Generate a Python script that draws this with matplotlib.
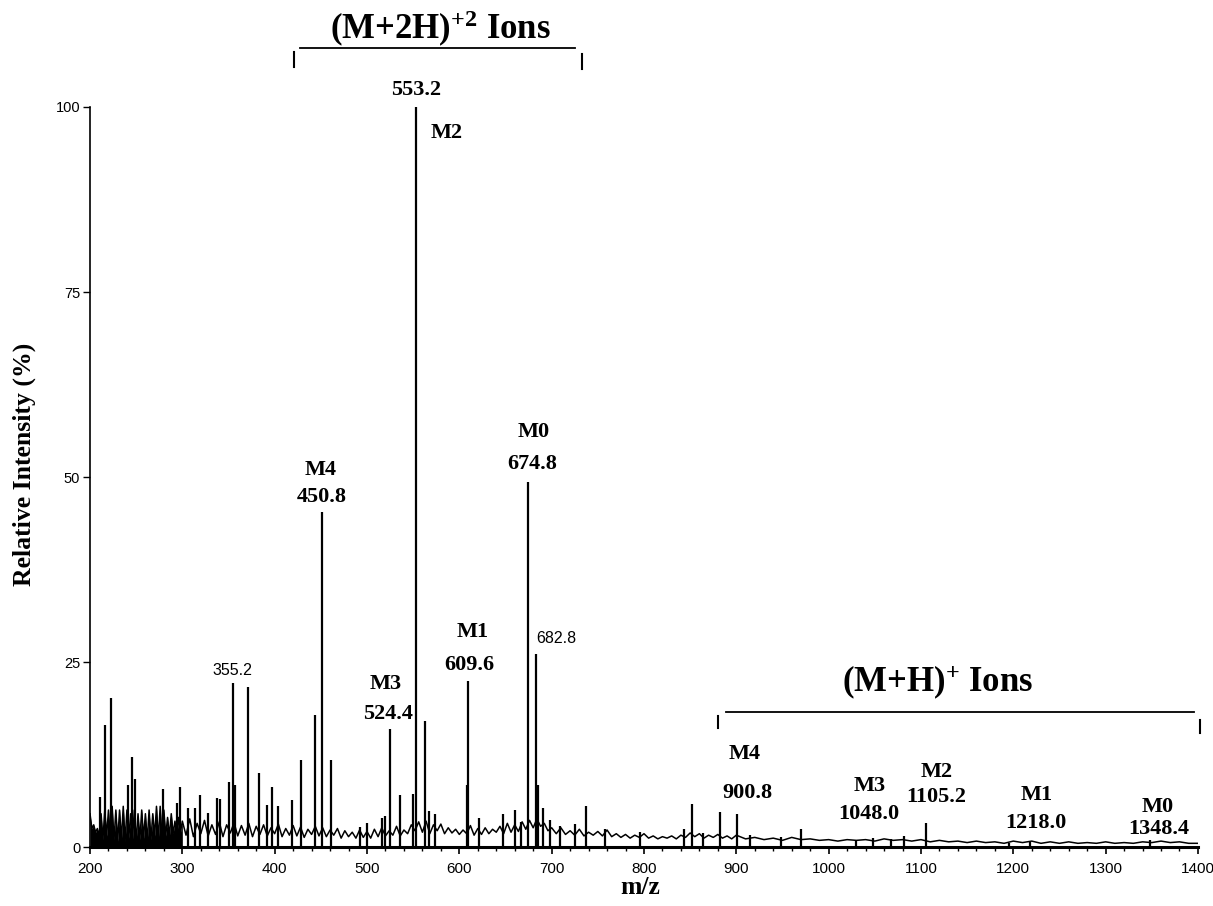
import matplotlib
matplotlib.use("Agg")
import matplotlib.pyplot as plt

plt.rcParams['mathtext.fontset'] = 'custom'
plt.rcParams['mathtext.rm'] = 'Liberation Serif:bold'
plt.rcParams['mathtext.bf'] = 'Liberation Serif:bold'
plt.rcParams['mathtext.default'] = 'bf'

# stick peaks (m/z, relative intensity %)
peak_mz = [211, 216, 223, 241, 245.5, 249, 279, 294, 297.5, 306, 314, 319, 328,
           337.5, 341, 351, 355.2, 357, 371, 383, 391.5, 397, 404, 419, 428.6,
           444, 450.8, 461, 492.5, 499.5, 516, 519, 524.4, 536, 550, 553.2, 563,
           567, 574, 608, 609.6, 621, 647.5, 660.5, 667, 674.8, 682.8, 685.5,
           691, 698, 709, 725, 737, 758, 796, 843, 852, 864, 882.5, 900.8, 915,
           948, 970, 1030, 1048, 1067, 1082, 1105.2, 1195, 1218, 1348]
peak_int = [6.8, 16.5, 20.1, 8.4, 12.2, 9.2, 7.8, 5.9, 8.1, 5.3, 5.3, 7.0, 4.6,
            6.6, 6.5, 8.8, 22.2, 8.4, 21.6, 10.0, 5.7, 8.1, 5.6, 6.4, 11.8,
            17.8, 45.3, 11.8, 2.7, 3.2, 3.9, 4.2, 15.9, 7.0, 7.2, 100, 17.0,
            4.8, 4.5, 8.4, 22.5, 3.9, 4.5, 5.0, 3.4, 49.3, 26.1, 8.4,
            5.3, 3.6, 2.9, 3.1, 5.6, 2.5, 2.0, 2.4, 5.8, 1.9, 4.7, 4.5, 1.6,
            1.4, 2.5, 0.9, 1.2, 1.1, 1.5, 3.3, 0.6, 0.7, 0.9]

# baseline / chemical noise trace
noise_mz = [200, 202, 204, 206, 208, 210, 212, 214, 216, 218, 220, 222, 224, 226,
            228, 230, 232, 234, 236, 238, 240, 242, 244, 246, 248, 250, 252, 254,
            256, 258, 260, 262, 264, 266, 268, 270, 272, 274, 276, 278, 280, 282,
            284, 286, 288, 290, 292, 294, 296, 298, 300,
            304, 308, 312, 316, 320, 324, 328, 332, 336, 340, 344, 348, 352, 356,
            360, 364, 368, 372, 376, 380, 384, 388, 392, 396, 400, 404, 408, 412,
            416, 420, 424, 428, 432, 436, 440, 444, 448, 452, 456, 460, 464, 468,
            472, 476, 480, 484, 488, 492, 496, 500, 504, 508, 512, 516, 520, 524,
            528, 532, 536, 540, 544, 548, 552, 556, 560, 564, 568, 572, 576, 580,
            584, 588, 592, 596, 600, 604, 608, 612, 616, 620, 624, 628, 632, 636,
            640, 644, 648, 652, 656, 660, 664, 668, 672, 676, 680, 684, 688, 692,
            696, 700,
            705, 710, 715, 720, 725, 730, 735, 740, 745, 750, 755, 760, 765, 770,
            775, 780, 785, 790, 795, 800, 805, 810, 815, 820, 825, 830, 835, 840,
            845, 850, 855, 860, 865, 870, 875, 880, 885, 890, 895, 900,
            910, 920, 930, 940, 950, 960, 970, 980, 990, 1000, 1010, 1020, 1030,
            1040, 1050, 1060, 1070, 1080, 1090, 1100, 1110, 1120, 1130, 1140, 1150,
            1160, 1170, 1180, 1190, 1200, 1210, 1220, 1230, 1240, 1250, 1260, 1270,
            1280, 1290, 1300, 1310, 1320, 1330, 1340, 1350, 1360, 1370, 1380, 1390,
            1400]
noise_int = [4.5, 2.5, 3.0, 2.0, 2.5, 1.5, 4.5, 1.0, 5.0, 1.5, 5.0, 1.0, 5.5, 1.0,
             5.0, 0.8, 5.0, 1.0, 5.5, 0.8, 5.0, 1.2, 4.5, 1.0, 5.0, 0.8, 4.5, 1.0,
             5.0, 1.2, 4.5, 0.8, 5.0, 1.0, 4.5, 1.5, 5.5, 1.0, 5.5, 1.2, 5.0, 1.5,
             4.0, 1.5, 4.5, 1.8, 3.5, 1.5, 4.0, 2.0, 3.5,
             1.6, 3.8, 1.4, 3.2, 1.8, 3.6, 1.5, 3.0, 1.7, 3.4, 1.4, 3.0, 1.9, 3.3,
             1.5, 2.9, 1.6, 3.2, 1.4, 2.8, 1.7, 3.0, 1.5, 2.6, 1.8, 3.1, 1.4, 2.5,
             1.6, 2.9, 1.5, 2.7, 1.3, 2.4, 1.7, 2.8, 1.5, 2.6, 1.4, 2.3, 1.6, 2.5,
             1.2, 2.2, 1.4, 2.0, 1.2, 2.3, 1.3, 2.1, 1.2, 2.4, 1.4, 2.6, 1.5, 2.2,
             1.6, 2.8, 1.5, 2.3, 1.8, 3.0, 2.2, 3.4, 2.0, 3.5, 1.8, 3.0, 2.2, 3.1,
             1.8, 2.6, 1.9, 2.4, 1.7, 2.3, 1.8, 2.9, 1.6, 2.5, 1.7, 2.6, 1.8, 2.4,
             2.0, 2.8, 1.8, 3.2, 2.0, 3.0, 2.1, 3.4, 2.4, 3.6, 2.6, 3.8, 2.8, 3.2,
             2.2, 2.6,
             1.8, 2.6, 1.7, 2.2, 1.6, 2.4, 1.5, 2.0, 1.6, 2.1, 1.5, 2.3, 1.4, 1.8,
             1.3, 1.7, 1.2, 1.6, 1.3, 1.8, 1.2, 1.5, 1.1, 1.4, 1.2, 1.5, 1.1, 1.6,
             1.3, 1.9, 1.4, 1.8, 1.2, 1.6, 1.3, 1.7, 1.2, 1.5, 1.1, 1.6,
             1.1, 1.3, 1.0, 1.2, 0.9, 1.3, 1.0, 1.1, 0.9, 1.0, 0.8, 1.0, 0.9,
             1.0, 0.8, 1.1, 0.9, 1.0, 0.8, 1.0, 0.7, 0.9, 0.7, 0.8, 0.6,
             0.8, 0.6, 0.7, 0.5, 0.8, 0.6, 0.8, 0.5, 0.7, 0.5, 0.7, 0.5,
             0.6, 0.5, 0.7, 0.5, 0.6, 0.5, 0.7, 0.6, 0.8, 0.6, 0.7, 0.5,
             0.5]
n_dense = 51  # points in the 200-300 region, which prints as solid black

# (text, m/z, intensity, size, bold, horizontal alignment)
labels = [
    ("553.2", 553.2, 102.3, 16, True, "center"),
    ("M2", 568.4, 96.5, 16, True, "left"),
    ("M4", 450.3, 51.0, 16, True, "center"),
    ("450.8", 451.5, 47.3, 16, True, "center"),
    ("M0", 680.0, 56.1, 16, True, "center"),
    ("674.8", 678.5, 51.8, 16, True, "center"),
    ("M1", 614.0, 29.0, 16, True, "center"),
    ("609.6", 610.6, 24.6, 16, True, "center"),
    ("682.8", 683.2, 28.2, 11.5, False, "left"),
    ("355.2", 353.8, 23.8, 11.5, False, "center"),
    ("M3", 520.7, 22.0, 16, True, "center"),
    ("524.4", 522.9, 18.0, 16, True, "center"),
    ("M4", 908.6, 12.6, 16, True, "center"),
    ("900.8", 911.8, 7.3, 16, True, "center"),
    ("M3", 1044.0, 8.3, 16, True, "center"),
    ("1048.0", 1043.0, 4.5, 16, True, "center"),
    ("M2", 1116.6, 10.1, 16, True, "center"),
    ("1105.2", 1116.6, 6.8, 16, True, "center"),
    ("M1", 1225.0, 7.0, 16, True, "center"),
    ("1218.0", 1224.0, 3.2, 16, True, "center"),
    ("M0", 1356.0, 5.4, 16, True, "center"),
    ("1348.4", 1357.0, 2.4, 16, True, "center"),
]

fig = plt.figure(figsize=(12.13, 9.06), dpi=100)
ax = fig.add_axes([0.0742, 0.0651, 0.9134, 0.8168])

ax.fill_between(noise_mz[:n_dense], 0, noise_int[:n_dense], color='black', linewidth=0)
ax.plot(noise_mz, noise_int, color='black', linewidth=1.1)
ax.vlines(peak_mz, 0, peak_int, color='black', linewidth=1.6)

ax.set_xlim(200, 1400)
ax.set_ylim(0, 100)
ax.spines['top'].set_visible(False)
ax.spines['right'].set_visible(False)
ax.spines['bottom'].set_linewidth(2.2)
ax.spines['left'].set_linewidth(1.2)
ax.set_xticks(range(200, 1401, 100))
ax.set_xticks(range(200, 1401, 20), minor=True)
ax.set_yticks([0, 25, 50, 75, 100])
ax.tick_params(axis='x', which='major', length=5, width=1.2, pad=6)
ax.tick_params(axis='x', which='minor', length=3, width=1.0)
ax.tick_params(axis='y', length=5, width=1.0, pad=2)
for t in ax.get_xticklabels():
    t.set_fontfamily('Liberation Sans')
    t.set_fontsize(11)
for t in ax.get_yticklabels():
    t.set_fontfamily('Liberation Sans')
    t.set_fontsize(10.5)

for text, x, y, size, bold, ha in labels:
    ax.text(x, y, text, ha=ha, va='center', fontsize=size,
            fontfamily='Liberation Serif' if bold else 'Liberation Sans',
            fontweight='bold' if bold else 'normal', clip_on=False)

# group brackets
ax.plot([427.5, 725.5], [108.0, 108.0], color='black', linewidth=1.3, clip_on=False)
ax.plot([421, 421], [105.4, 107.4], color='black', linewidth=1.5, clip_on=False)
ax.plot([733, 733], [105.2, 107.2], color='black', linewidth=1.5, clip_on=False)
ax.text(579, 110.6, r"(M+2H)$^{+2}$ Ions", ha='center', va='center', fontsize=25,
        fontfamily='Liberation Serif', fontweight='bold', clip_on=False)

ax.plot([889, 1396], [18.2, 18.2], color='black', linewidth=1.3, clip_on=False)
ax.plot([880.4, 880.4], [16.1, 17.7], color='black', linewidth=1.5, clip_on=False)
ax.plot([1402.6, 1402.6], [15.4, 17.2], color='black', linewidth=1.5, clip_on=False)
ax.text(1117.6, 22.3, r"(M+H)$^{+}$ Ions", ha='center', va='center', fontsize=25,
        fontfamily='Liberation Serif', fontweight='bold', clip_on=False)

fig.text(24 / 1213, 1 - 464 / 906, "Relative Intensity (%)", rotation=90,
         ha='center', va='center', fontsize=18.5, fontfamily='Liberation Serif',
         fontweight='bold')
fig.text(640 / 1213, 1 - 888 / 906, "m/z", ha='center', va='center', fontsize=18.5,
         fontfamily='Liberation Serif', fontweight='bold')

fig.savefig('out.png', dpi=100, facecolor='white')
